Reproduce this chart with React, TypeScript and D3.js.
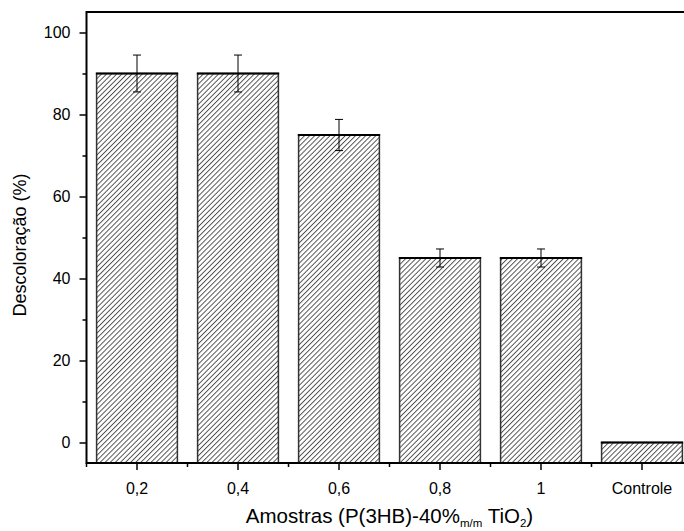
import { useEffect, useRef } from "react"
import * as d3 from "d3"

const categories = ["0,2", "0,4", "0,6", "0,8", "1", "Controle"]
const values = [90, 90, 75, 45, 45, 0]
const errors = [4.5, 4.5, 3.8, 2.2, 2.2, 0]
const yTicks = [0, 20, 40, 60, 80, 100]

export default function App() {
    const svgRef = useRef<SVGSVGElement>(null)

    useEffect(() => {
        const width = 684, height = 531
        const margin = { top: 12, right: -8.5, bottom: 68, left: 86.5 }
        const wt = width - margin.left - margin.right,
            ht = height - margin.top - margin.bottom

        d3.select(svgRef.current).selectAll("*").remove()

        const root = d3.select(svgRef.current)
            .attr("width", width)
            .attr("height", height)

        const defs = root.append("defs")
        const pat = defs.append("pattern")
            .attr("id", "hatch")
            .attr("patternUnits", "userSpaceOnUse")
            .attr("width", 3.6)
            .attr("height", 6)
            .attr("patternTransform", "rotate(45)")
        pat.append("rect").attr("width", 3.6).attr("height", 6).attr("fill", "white")
        pat.append("line")
            .attr("x1", 0.5).attr("y1", 0).attr("x2", 0.5).attr("y2", 6)
            .attr("stroke", "#3a3a3a").attr("stroke-width", 0.9)

        const svg = root.append("g")
            .attr("transform", `translate(${margin.left},${margin.top})`)

        const x = d3.scaleBand()
            .domain(categories)
            .range([0, wt])
            .paddingInner(0.2)
            .paddingOuter(0.1)

        const y = d3.scaleLinear()
            .domain([-5, 105])
            .range([ht, 0])

        const font = "'Liberation Sans', Arial, sans-serif"

        // bars
        svg.append("g")
            .selectAll("rect")
            .data(values)
            .join("rect")
                .attr("x", (d, i) => x(categories[i])!)
                .attr("y", d => y(d))
                .attr("width", x.bandwidth())
                .attr("height", d => ht - y(d))
                .attr("fill", "url(#hatch)")
                .attr("stroke", "#333")
                .attr("stroke-width", 1.5)

        // thicker top edge
        svg.append("g")
            .selectAll("line")
            .data(values)
            .join("line")
                .attr("x1", (d, i) => x(categories[i])! - 0.75)
                .attr("x2", (d, i) => x(categories[i])! + x.bandwidth() + 0.75)
                .attr("y1", d => y(d))
                .attr("y2", d => y(d))
                .attr("stroke", "#000")
                .attr("stroke-width", 2)

        // error bars
        const eb = svg.append("g")
        values.forEach((v, i) => {
            if (!errors[i]) return
            const cx = x(categories[i])! + x.bandwidth() / 2
            eb.append("line")
                .attr("x1", cx).attr("x2", cx)
                .attr("y1", y(v + errors[i])).attr("y2", y(v - errors[i]))
                .attr("stroke", "#000")
            ;[v + errors[i], v - errors[i]].forEach(e => {
                eb.append("line")
                    .attr("x1", cx - 4).attr("x2", cx + 4)
                    .attr("y1", y(e)).attr("y2", y(e))
                    .attr("stroke", "#000")
            })
        })

        // frame
        svg.append("rect")
            .attr("x", 0).attr("y", 0)
            .attr("width", wt).attr("height", ht)
            .attr("fill", "none")
            .attr("stroke", "#000")
            .attr("stroke-width", 2)

        // y axis
        const yAxis = svg.append("g")
            .call(d3.axisLeft(y).tickValues(yTicks).tickSize(7).tickPadding(9))
        yAxis.select(".domain").remove()
        yAxis.selectAll("line").attr("stroke-width", 1.5)
        yAxis.selectAll("text").style("font-family", font).style("font-size", "16px").attr("fill", "#000")
        svg.append("g")
            .call(d3.axisLeft(y).tickValues([10, 30, 50, 70, 90]).tickSize(4).tickFormat(() => ""))
            .call(g => g.select(".domain").remove())
            .selectAll("line").attr("stroke-width", 1.5)

        // x axis
        const xAxis = svg.append("g")
            .attr("transform", `translate(0,${ht})`)
            .call(d3.axisBottom(x).tickSize(7).tickPadding(13))
        xAxis.select(".domain").remove()
        xAxis.selectAll("line").attr("stroke-width", 1.5)
        xAxis.selectAll("text").style("font-family", font).style("font-size", "16px").attr("fill", "#000")
        const step = x.step()
        const minor = d3.range(categories.length + 1).map(i => i * step)
        svg.append("g")
            .selectAll("line")
            .data(minor)
            .join("line")
                .attr("x1", d => d).attr("x2", d => d)
                .attr("y1", ht).attr("y2", ht + 4)
                .attr("stroke", "#000").attr("stroke-width", 1.5)

        // x-axis label
        const xl = svg.append("text")
            .attr("text-anchor", "middle")
            .attr("x", 303)
            .attr("y", ht + 59.5)
            .style("font-family", font)
            .style("font-size", "20.5px")
        xl.append("tspan").text("Amostras (P(3HB)-40%")
        xl.append("tspan").attr("dy", 4).style("font-size", "11.5px").text("m/m")
        xl.append("tspan").attr("dy", -4).text(" TiO")
        xl.append("tspan").attr("dy", 4).style("font-size", "11.5px").text("2")
        xl.append("tspan").attr("dy", -4).text(")")

        // y-axis label
        svg.append("text")
            .attr("text-anchor", "middle")
            .attr("transform", "rotate(-90)")
            .attr("x", -233)
            .attr("y", -60.5)
            .style("font-family", font)
            .style("font-size", "18px")
            .text("Descoloração (%)")
    }, [])

    return <svg ref={svgRef} style={{ position: "absolute", left: 0, top: 0 }}></svg>
}
